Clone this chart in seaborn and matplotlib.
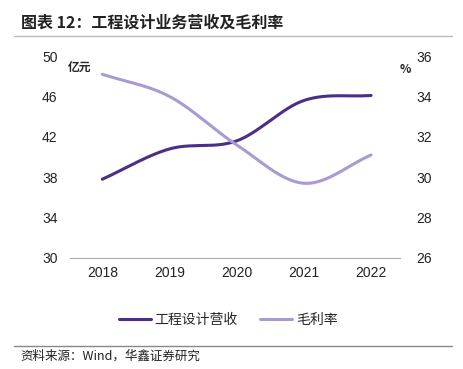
import numpy as np
import matplotlib
matplotlib.use("Agg")
import matplotlib.pyplot as plt
import seaborn as sns

years = [2018, 2019, 2020, 2021, 2022]
revenue = [37.8, 40.8, 41.6, 45.6, 46.1]   # 亿元
margin = [35.1, 34.0, 31.6, 29.7, 31.1]    # %

rev_color = "#4a2f86"
mar_color = "#a99ad2"


def smooth(x, y, n=200):
    """Hermite smoothing, used only for drawing the curve."""
    x = np.asarray(x, float)
    y = np.asarray(y, float)
    xs, ys = [], []
    m = np.gradient(y, x)
    for i in range(len(x) - 1):
        h = x[i + 1] - x[i]
        t = np.linspace(0, 1, n // (len(x) - 1))
        h00 = 2 * t**3 - 3 * t**2 + 1
        h10 = t**3 - 2 * t**2 + t
        h01 = -2 * t**3 + 3 * t**2
        h11 = t**3 - t**2
        xs.append(x[i] + t * h)
        ys.append(h00 * y[i] + h10 * h * m[i] + h01 * y[i + 1] + h11 * h * m[i + 1])
    return np.concatenate(xs), np.concatenate(ys)


sns.set_style("white")
plt.rcParams["font.family"] = ["Liberation Sans", "Noto Sans CJK SC", "DejaVu Sans"]

fig = plt.figure(figsize=(4.64, 3.69), dpi=100)
ax = fig.add_axes([0.151, 0.301, 0.711, 0.547])
ax2 = ax.twinx()

sx, sy = smooth(years, revenue)
sns.lineplot(x=sx, y=sy, ax=ax, color=rev_color, linewidth=2.2, sort=False)
sx2, sy2 = smooth(years, margin)
sns.lineplot(x=sx2, y=sy2, ax=ax2, color=mar_color, linewidth=2.2, sort=False)

ax.set_xlim(2017.52, 2022.43)
ax.set_ylim(30, 50)
ax.set_yticks([30, 34, 38, 42, 46, 50])
ax2.set_ylim(26, 36)
ax2.set_yticks([26, 28, 30, 32, 34, 36])
ax.set_xticks(years)
ax.set_xticklabels([str(y) for y in years])

for a in (ax, ax2):
    for s in a.spines.values():
        s.set_visible(False)
    a.tick_params(length=0, labelsize=10, colors="#222222")
ax.spines["bottom"].set_visible(True)
ax.spines["bottom"].set_color("#aaaaaa")
ax.spines["bottom"].set_linewidth(0.8)
ax.tick_params(axis="y", pad=9)
ax.tick_params(axis="x", pad=6)
ax2.tick_params(axis="y", pad=12)

cjk = ["Noto Sans CJK SC", "DejaVu Sans"]
fig.text(0.172, 0.818, "亿元", fontsize=8.5, ha="center", va="center", fontweight="bold", family=cjk)
fig.text(0.873, 0.813, "%", fontsize=8.5, ha="center", va="center", fontweight="bold", family=cjk)

fig.text(0.045, 0.94, "图表 12：工程设计业务营收及毛利率", fontsize=11.5, fontweight="bold",
         ha="left", va="center", color="#222222", family=cjk)
fig.add_artist(plt.Line2D([0.03, 0.975], [0.903, 0.903], color="#bbbbbb", lw=1))
fig.add_artist(plt.Line2D([0.03, 0.975], [0.061, 0.061], color="#888888", lw=1))
fig.text(0.045, 0.035, "资料来源：Wind，华鑫证券研究", fontsize=9, ha="left", va="center",
         color="#222222", family=cjk)

handles = [plt.Line2D([], [], color=rev_color, lw=2.2), plt.Line2D([], [], color=mar_color, lw=2.2)]
leg = fig.legend(handles, ["工程设计营收", "毛利率"], loc="center", bbox_to_anchor=(0.492, 0.133),
                 ncol=2, frameon=False, fontsize=10, handlelength=2.3, columnspacing=1.6,
                 handletextpad=0.3)
for t in leg.get_texts():
    t.set_family(cjk)

fig.savefig("out.png", dpi=100)
